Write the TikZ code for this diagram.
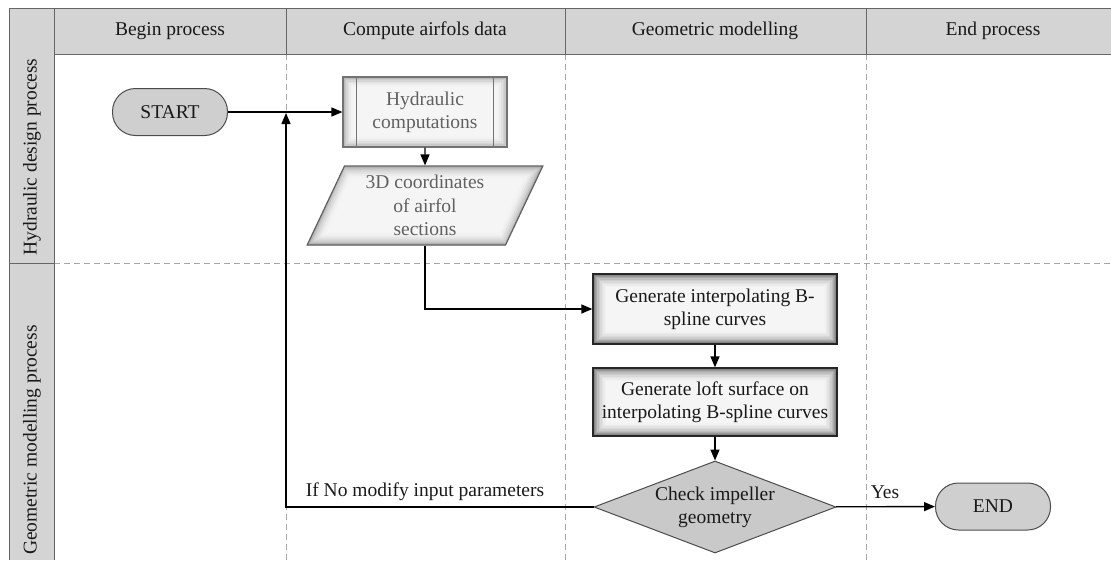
\documentclass[tikz,border=0pt]{standalone}
\usepackage{fontspec}
\setmainfont{Liberation Serif}
\usetikzlibrary{arrows.meta,shapes.geometric}
\tikzset{
  txt/.style={font=\fontsize{19.5}{23.3}\selectfont, align=center, text=black!90},
  arr/.style={line width=1.4pt, -{Triangle[length=11pt,width=9pt]}},
  pill/.style={txt, rectangle, rounded corners=23pt, draw=black!70, line width=1pt, fill=black!19,
     minimum width=115pt, minimum height=47pt, inner sep=0pt},
  darkglow/.style={path picture={
     \foreach \w/\c in {26/5,23/8,20/11,17/15,14/20,11/26,8/33,6/40,4/48,2/56}{
       \draw[black!\c, line width=\w pt] (path picture bounding box.south west) rectangle (path picture bounding box.north east);}}},
  lightglow/.style={path picture={
     \foreach \w/\c in {20/5,16/8,12/12,9/16,6/21,3/27}{
       \draw[black!\c, line width=\w pt] (path picture bounding box.south west) rectangle (path picture bounding box.north east);}}},
  paraglow/.style={path picture={
     \foreach \w/\c in {24/5,19/8,15/12,11/17,7/23,4/30}{
       \draw[black!\c, line width=\w pt, line join=miter] (path picture bounding box.south west) -- ++(200pt,0pt)
         -- (path picture bounding box.north east) -- ++(-200pt,0pt) -- cycle;}}},
  genbox/.style={txt, rectangle, draw=black!85, line width=1.3pt, fill=black!4, darkglow,
     minimum width=244pt, inner sep=0pt},
  sepsolid/.style={draw=black!60, line width=0.8pt},
  sepdash/.style={draw=black!35, line width=0.8pt, dash pattern=on 6pt off 4pt},
}
\begin{document}
\begin{tikzpicture}[x=1pt,y=-1pt]
\useasboundingbox (0,0) rectangle (1111,560);
% lanes background
\fill[black!17] (9,8) rectangle (1111,54);
\fill[black!17] (9,8) rectangle (54,560);
% dashed separators
\draw[sepdash] (286,54) -- (286,560);
\draw[sepdash] (565,54) -- (565,560);
\draw[sepdash] (866,54) -- (866,560);
\draw[sepdash] (54,263) -- (1111,263);
% solid frame lines
\draw[sepsolid] (9,8) -- (1111,8);
\draw[sepsolid] (9,8) -- (9,560);
\draw[sepsolid] (54,8) -- (54,560);
\draw[sepsolid] (54,54) -- (1111,54);
\draw[sepsolid] (286,8) -- (286,54);
\draw[sepsolid] (565,8) -- (565,54);
\draw[sepsolid] (866,8) -- (866,54);
\draw[sepsolid] (9,263) -- (54,263);
% headers
\node[txt] (h1) at (170,31) {Begin process};
\node[txt] (h2) at (425,31) {Compute airfols data};
\node[txt] (h3) at (715,31) {Geometric modelling};
\node[txt] (h4) at (993,31) {End process};
\node[txt, rotate=90] (l1) at (32,157) {Hydraulic design process};
\node[txt, rotate=90] (l2) at (32,440) {Geometric modelling process};
% nodes
\node[pill] (start) at (170,112) {START};
\node[txt, rectangle, draw=black!55, line width=1.2pt, fill=black!4, lightglow, text=black!62,
      minimum width=164pt, minimum height=70pt, inner sep=0pt] (hyd) at (425,112) {Hydraulic\\computations};
\draw[black!55, line width=1pt] ([xshift=14pt]hyd.north west) -- ([xshift=14pt]hyd.south west);
\draw[black!55, line width=1pt] ([xshift=-14pt]hyd.north east) -- ([xshift=-14pt]hyd.south east);
\node[txt, trapezium, trapezium left angle=65.5, trapezium right angle=114.5, trapezium stretches=true,
      draw=black!62, line width=1.2pt, fill=black!4, paraglow, text=black!62,
      minimum width=236pt, minimum height=79pt, inner sep=0pt] (coords) at (425,205.5) {3D coordinates\\of airfol\\sections};
\node[genbox, minimum height=70pt] (gen1) at (715,309) {Generate interpolating B-\\spline curves};
\node[genbox, minimum height=68pt] (gen2) at (715,402) {Generate loft surface on\\interpolating B-spline curves};
\node[diamond, draw=black!70, line width=1pt, fill=black!21, minimum width=242pt, minimum height=92pt, inner sep=0pt] (check) at (715,507) {};
\node[txt] (checktext) at (check.center) {Check impeller\\geometry};
\node[pill] (end) at (993,506.5) {END};
\coordinate (looptop) at (286,113);
% connectors
\draw[arr] (start) -- (hyd);
\draw[arr] (hyd) -- (coords);
\draw[arr] (coords.south) |- (gen1.west);
\draw[arr] (gen1) -- (gen2);
\draw[arr] (gen2) -- (check);
\draw[arr] (check) -- (end);
\draw[arr] (check.west) -| (looptop);
% labels
\node[txt] (nolabel) at (425,492) {If No modify input parameters};
\node[txt] (yeslabel) at (885,492) {Yes};
\end{tikzpicture}
\end{document}
